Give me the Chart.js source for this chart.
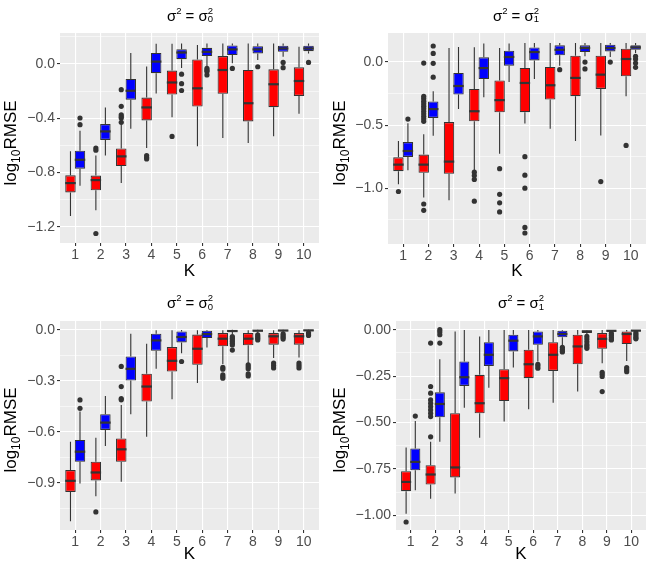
<!DOCTYPE html>
<html><head><meta charset="utf-8">
<script src="https://cdn.jsdelivr.net/npm/chart.js@4.4.1/dist/chart.umd.min.js"></script>
<style>
html,body{margin:0;padding:0;background:#fff;}
#wrap{position:relative;width:650px;height:566px;overflow:hidden;font-family:"Liberation Sans",Arial,sans-serif;}
canvas{position:absolute;}
.ttl{position:absolute;transform:translate(-50%,-50%);font-size:15px;line-height:15px;white-space:nowrap;color:#000;}
.sp{position:relative;top:-7px;font-size:9.5px;}
.sb{position:relative;top:1.5px;font-size:9.5px;margin-left:-5.3px;}
.yt{position:absolute;transform:translate(-50%,-50%) rotate(-90deg);font-size:17px;line-height:17px;white-space:nowrap;color:#000;}
.ysb{position:relative;top:4px;font-size:12px;}
</style></head>
<body>
<div id="wrap">
<canvas id="c1" width="325" height="283" style="left:0;top:0"></canvas>
<canvas id="c2" width="325" height="283" style="left:325px;top:0"></canvas>
<canvas id="c3" width="325" height="283" style="left:0;top:283px"></canvas>
<canvas id="c4" width="325" height="283" style="left:325px;top:283px"></canvas>
<div class="ttl" style="left:190px;top:15.5px">σ<span class="sp">2</span> = σ<span class="sp">2</span><span class="sb">0</span></div>
<div class="ttl" style="left:516px;top:15.5px">σ<span class="sp">2</span> = σ<span class="sp">2</span><span class="sb">1</span></div>
<div class="ttl" style="left:190px;top:303px">σ<span class="sp">2</span> = σ<span class="sp">2</span><span class="sb">0</span></div>
<div class="ttl" style="left:521px;top:303px">σ<span class="sp">2</span> = σ<span class="sp">2</span><span class="sb">1</span></div>
<div class="yt" style="left:11.3px;top:142.5px">log<span class="ysb">10</span>RMSE</div>
<div class="yt" style="left:339.5px;top:142.5px">log<span class="ysb">10</span>RMSE</div>
<div class="yt" style="left:11.3px;top:429.5px">log<span class="ysb">10</span>RMSE</div>
<div class="yt" style="left:339.5px;top:429.5px">log<span class="ysb">10</span>RMSE</div>
</div>
<script>
const FONT = '"Liberation Sans", Arial, sans-serif';
const K = [1,2,3,4,5,6,7,8,9,10];

// each box: [lower whisker, Q1, median, Q3, upper whisker]
const p1RedBox = [[-1.12,-0.947,-0.878,-0.821,-0.644],[-1.078,-0.931,-0.856,-0.823,-0.674],[-0.877,-0.752,-0.681,-0.623,-0.445],[-0.62,-0.416,-0.32,-0.247,-0.018],[-0.393,-0.225,-0.136,-0.048,0.15],[-0.607,-0.313,-0.179,0.034,0.14],[-0.546,-0.22,-0.044,0.059,0.152],[-0.582,-0.423,-0.289,-0.044,0.152],[-0.533,-0.318,-0.149,-0.039,0.152],[-0.367,-0.235,-0.125,-0.024,0.127]];
const p1RedOut = [[],[-0.62,-0.635,-1.25],[-0.189,-0.312,-0.374,-0.387,-0.398,-0.43],[-0.675,-0.69,-0.7],[-0.534],[],[],[],[],[]];
const p1BlueBox = [[-0.897,-0.772,-0.706,-0.639,-0.492],[-0.674,-0.56,-0.497,-0.443,-0.32],[-0.477,-0.263,-0.197,-0.11,0.081],[-0.218,-0.067,0.018,0.082,0.15],[-0.03,0.036,0.085,0.11,0.152],[-0.02,0.059,0.09,0.12,0.152],[0.005,0.066,0.108,0.137,0.152],[0.029,0.078,0.108,0.132,0.152],[0.054,0.09,0.115,0.135,0.152],[0.078,0.095,0.115,0.135,0.152]];
const p1BlueOut = [[-0.398,-0.447],[],[],[],[-0.075,-0.145,-0.195],[-0.032,-0.045,-0.055,-0.08],[-0.032],[-0.02],[0.012,-0.027],[0.012]];

const p2RedBox = [[-0.968,-0.865,-0.813,-0.755,-0.625],[-1.074,-0.878,-0.813,-0.733,-0.572],[-1.095,-0.886,-0.789,-0.476,0.111],[-0.857,-0.47,-0.39,-0.213,0.118],[-0.727,-0.398,-0.302,-0.146,0.111],[-0.487,-0.397,-0.166,-0.047,0.15],[-0.529,-0.297,-0.184,-0.039,0.15],[-0.626,-0.271,-0.126,0.05,0.15],[-0.582,-0.213,-0.1,0.05,0.15],[-0.271,-0.113,0.024,0.105,0.15]];
const p2RedOut = [[-1.026],[-0.008,-0.272,-0.29,-0.31,-0.33,-0.35,-0.37,-0.39,-0.41,-0.43,-0.45,-0.47,-1.125,-1.175],[],[-0.873,-0.9,-0.93,-1.103],[-0.845,-1.048,-1.116,-1.188],[-0.75,-0.897,-1.0,-1.311,-1.355],[],[],[-0.947],[-0.661]];
const p2BlueBox = [[-0.858,-0.752,-0.705,-0.634,-0.485],[-0.585,-0.443,-0.373,-0.312,-0.232],[-0.373,-0.258,-0.19,-0.087,0.119],[-0.28,-0.135,-0.048,0.037,0.146],[-0.159,-0.029,0.04,0.09,0.146],[-0.134,0.013,0.079,0.116,0.15],[-0.029,0.053,0.097,0.132,0.15],[0.045,0.079,0.111,0.132,0.15],[0.039,0.084,0.111,0.137,0.15],[0.071,0.097,0.116,0.132,0.15]];
const p2BlueOut = [[-0.452],[0.127,0.068,-0.01,-0.12],[],[],[],[],[-0.061],[0.0,-0.055],[0.0],[0.045,0.024,-0.008,-0.042]];

const p3RedBox = [[-1.126,-0.953,-0.888,-0.825,-0.658],[-0.978,-0.886,-0.839,-0.776,-0.635],[-0.894,-0.776,-0.703,-0.639,-0.442],[-0.629,-0.422,-0.334,-0.259,-0.083],[-0.409,-0.246,-0.183,-0.102,-0.004],[-0.314,-0.206,-0.112,-0.029,-0.004],[-0.202,-0.098,-0.053,-0.02,-0.004],[-0.202,-0.092,-0.053,-0.02,-0.004],[-0.167,-0.088,-0.039,-0.02,-0.004],[-0.163,-0.088,-0.039,-0.02,-0.004]];
const p3RedOut = [[],[-1.071],[-0.216,-0.334,-0.405,-0.412],[],[],[],[-0.222,-0.232,-0.265,-0.275,-0.285],[-0.206,-0.218,-0.23,-0.26,-0.272],[-0.196,-0.21,-0.225],[-0.196,-0.21,-0.225]];
const p3BlueBox = [[-0.904,-0.776,-0.717,-0.648,-0.481],[-0.684,-0.589,-0.546,-0.497,-0.389],[-0.497,-0.299,-0.23,-0.157,-0.024],[-0.23,-0.124,-0.063,-0.024,-0.004],[-0.138,-0.075,-0.043,-0.01,-0.002],[-0.104,-0.049,-0.026,-0.006,-0.002],[-0.025,-0.012,-0.008,-0.004,-0.001],[-0.022,-0.01,-0.006,-0.003,-0.001],[-0.018,-0.009,-0.005,-0.003,-0.001],[-0.012,-0.007,-0.004,-0.002,-0.001]];
const p3BlueOut = [[-0.413,-0.462],[],[],[],[-0.187],[],[-0.04,-0.05,-0.06,-0.07,-0.08,-0.09,-0.12],[-0.03,-0.04,-0.05,-0.06],[-0.025,-0.035,-0.045,-0.055],[-0.018,-0.026,-0.034]];

const p4RedBox = [[-0.991,-0.87,-0.82,-0.762,-0.634],[-0.91,-0.834,-0.78,-0.73,-0.604],[-0.883,-0.796,-0.742,-0.45,-0.009],[-0.582,-0.45,-0.396,-0.243,-0.036],[-0.495,-0.384,-0.261,-0.213,-0.002],[-0.429,-0.261,-0.186,-0.108,-0.002],[-0.393,-0.222,-0.135,-0.067,-0.002],[-0.333,-0.186,-0.09,-0.027,-0.002],[-0.18,-0.103,-0.049,-0.018,-0.002],[-0.168,-0.077,-0.023,-0.009,-0.002]];
const p4RedOut = [[-1.036],[-0.072,-0.306,-0.342,-0.378,-0.396,-0.414,-0.432,-0.45,-0.468,-0.577],[],[],[],[],[],[],[-0.229,-0.24,-0.252,-0.333],[-0.204,-0.215,-0.226]];
const p4BlueBox = [[-0.865,-0.757,-0.712,-0.64,-0.492],[-0.604,-0.472,-0.4,-0.337,-0.159],[-0.42,-0.303,-0.256,-0.171,-0.002],[-0.312,-0.195,-0.135,-0.067,-0.002],[-0.204,-0.117,-0.059,-0.027,-0.002],[-0.171,-0.081,-0.036,-0.009,-0.002],[-0.085,-0.041,-0.023,-0.005,-0.001],[-0.03,-0.018,-0.009,-0.004,-0.001],[-0.016,-0.01,-0.006,-0.003,-0.001],[-0.012,-0.008,-0.005,-0.002,-0.001]];
const p4BlueOut = [[-0.465],[0.0,-0.012,-0.027,-0.072],[],[],[],[-0.186,-0.196,-0.207],[-0.095,-0.105,-0.115,-0.12],[-0.036,-0.05,-0.065,-0.08,-0.09,-0.1],[-0.02,-0.03,-0.04,-0.05,-0.055],[-0.015,-0.025,-0.035,-0.045,-0.049]];

const p1Ticks = [-1.2,-0.8,-0.4,0.0];
const p1TickLabels = ['\u22121.2','\u22120.8','\u22120.4','0.0'];
const p2Ticks = [-1.0,-0.5,0.0];
const p2TickLabels = ['\u22121.0','\u22120.5','0.0'];
const p3Ticks = [-0.9,-0.6,-0.3,0.0];
const p3TickLabels = ['\u22120.9','\u22120.6','\u22120.3','0.0'];
const p4Ticks = [-1.0,-0.75,-0.5,-0.25,0.0];
const p4TickLabels = ['\u22121.00','\u22120.75','\u22120.50','\u22120.25','0.00'];

const panels = [
  {id:'c1', red:p1RedBox, redOut:p1RedOut, blue:p1BlueBox, blueOut:p1BlueOut, ticks:p1Ticks, labels:p1TickLabels, min:-1.320, max:0.229, left:60, right:6, top:33, bottom:40},
  {id:'c2', red:p2RedBox, redOut:p2RedOut, blue:p2BlueBox, blueOut:p2BlueOut, ticks:p2Ticks, labels:p2TickLabels, min:-1.442, max:0.230, left:63, right:4, top:33, bottom:39},
  {id:'c3', red:p3RedBox, redOut:p3RedOut, blue:p3BlueBox, blueOut:p3BlueOut, ticks:p3Ticks, labels:p3TickLabels, min:-1.177, max:0.051, left:60, right:6, top:38, bottom:36},
  {id:'c4', red:p4RedBox, redOut:p4RedOut, blue:p4BlueBox, blueOut:p4BlueOut, ticks:p4Ticks, labels:p4TickLabels, min:-1.079, max:0.047, left:71, right:4, top:38, bottom:36}
];

function yTicks(p){
  const out = p.ticks.map((v,i)=>({value:v, lab:p.labels[i], minor:false}));
  const step = p.ticks[1]-p.ticks[0];
  const cand = p.ticks.map(v=>v-step/2).concat([p.ticks[p.ticks.length-1]+step/2]);
  cand.forEach(v=>{ if (v>=p.min && v<=p.max) out.push({value:v, lab:'', minor:true}); });
  out.sort((a,b)=>a.value-b.value);
  return out;
}

const bgPlugin = {
  id:'panelBg',
  beforeDraw(c){
    const a = c.chartArea, ctx = c.ctx;
    ctx.save(); ctx.fillStyle = '#EBEBEB';
    ctx.fillRect(a.left, a.top, a.right-a.left, a.bottom-a.top);
    ctx.restore();
  }
};

function drawBoxParts(chart, phase){
  const ctx = chart.ctx, ys = chart.scales.y;
  chart.data.datasets.forEach((ds, di)=>{
    const meta = chart.getDatasetMeta(di);
    meta.data.forEach((bar, i)=>{
      const st = ds.stats[i];
      const x = bar.x, w = bar.width;
      ctx.save();
      if (phase === 'under'){
        ctx.fillStyle = '#333333';
        ds.outl[i].forEach(v=>{
          ctx.beginPath();
          ctx.arc(x, ys.getPixelForValue(v), 2.6, 0, Math.PI*2);
          ctx.fill();
        });
        ctx.strokeStyle = '#333333'; ctx.lineWidth = 1.1;
        ctx.beginPath();
        ctx.moveTo(x, ys.getPixelForValue(st[0])); ctx.lineTo(x, ys.getPixelForValue(st[1]));
        ctx.moveTo(x, ys.getPixelForValue(st[3])); ctx.lineTo(x, ys.getPixelForValue(st[4]));
        ctx.stroke();
      } else {
        ctx.strokeStyle = '#333333'; ctx.lineWidth = 2.2;
        const my = ys.getPixelForValue(st[2]);
        ctx.beginPath();
        ctx.moveTo(x - w/2, my); ctx.lineTo(x + w/2, my);
        ctx.stroke();
      }
      ctx.restore();
    });
  });
}
const boxPlugin = {
  id:'boxParts',
  beforeDatasetsDraw(c){ drawBoxParts(c, 'under'); },
  afterDatasetsDraw(c){ drawBoxParts(c, 'over'); }
};

function makeChart(p){
  const mk = (box, out, color) => ({
    data: K.map((k,i)=>({x:k, y:[box[i][1], box[i][3]]})),
    stats: box, outl: out,
    backgroundColor: color, borderColor:'#333333', borderWidth:1.1, borderSkipped:false,
    categoryPercentage:0.75, barPercentage:1.1
  });
  new Chart(document.getElementById(p.id), {
    type:'bar',
    data:{ datasets:[ mk(p.red, p.redOut, '#FF0000'), mk(p.blue, p.blueOut, '#0000FF') ] },
    options:{
      responsive:false, animation:false, devicePixelRatio:1,
      layout:{ padding:{ top:p.top, right:p.right, left:0, bottom:0 } },
      plugins:{ legend:{display:false}, tooltip:{enabled:false}, title:{display:false} },
      scales:{
        x:{
          type:'linear', min:0.4, max:10.6, offset:false,
          afterFit:s=>{ s.height = p.bottom; },
          afterBuildTicks:s=>{ s.ticks = K.map(v=>({value:v})); },
          ticks:{ autoSkip:false, maxRotation:0, color:'#4D4D4D', font:{family:FONT, size:14}, padding:1, callback:v=>String(v) },
          grid:{ offset:false, color:'#FFFFFF', lineWidth:1.1, drawTicks:true, tickLength:3, tickColor:'#333333', tickWidth:1.1 },
          border:{ display:false },
          title:{ display:true, text:'K', color:'#000000', font:{family:FONT, size:17}, padding:{top:0, bottom:1} }
        },
        y:{
          type:'linear', min:p.min, max:p.max, beginAtZero:false,
          afterFit:s=>{ s.width = p.left; },
          afterBuildTicks:s=>{ s.ticks = yTicks(p); },
          ticks:{ autoSkip:false, color:'#4D4D4D', font:{family:FONT, size:14}, padding:2, callback:(v,i,t)=>t[i].lab },
          grid:{ color:'#FFFFFF',
                 lineWidth:c=> (c.tick && c.tick.minor) ? 0.55 : 1.1,
                 tickLength:3,
                 tickColor:c=> (c.tick && c.tick.minor) ? 'rgba(0,0,0,0)' : '#333333',
                 tickWidth:1.1 },
          border:{ display:false }
        }
      }
    },
    plugins:[bgPlugin, boxPlugin]
  });
}
panels.forEach(makeChart);
</script>
</body></html>
